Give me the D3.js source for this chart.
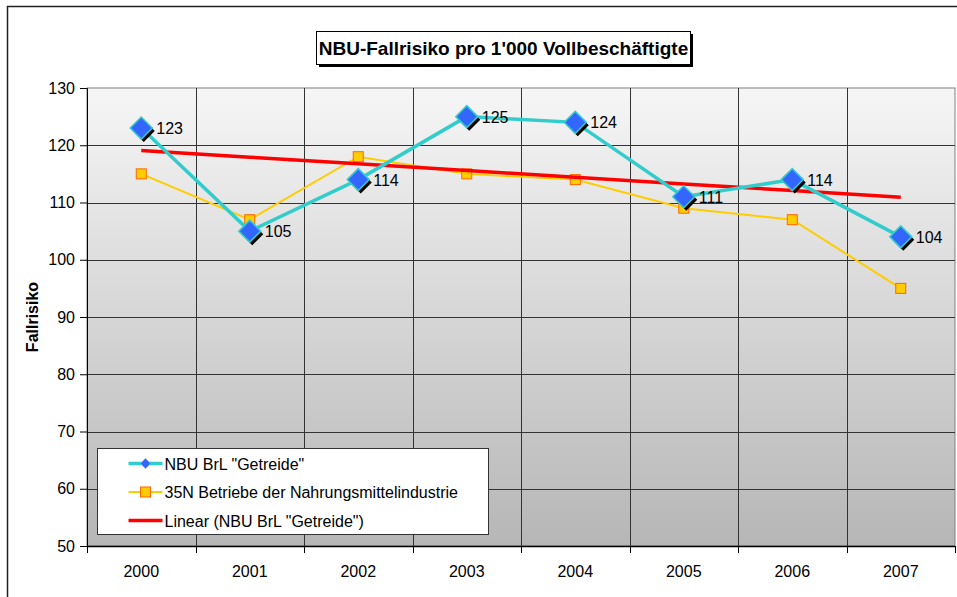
<!DOCTYPE html>
<html>
<head>
<meta charset="utf-8">
<script src="https://cdn.jsdelivr.net/npm/d3@7"></script>
<style>
  body { margin: 0; background: #fff; }
  text { font-family: Arial, "Liberation Sans", sans-serif; }
</style>
</head>
<body>
<div id="chart"></div>
<script>
// data
var years = ["2000", "2001", "2002", "2003", "2004", "2005", "2006", "2007"];
var nbuValues = [123, 105, 114, 125, 124, 111, 114, 104];
var nahrungValues = [115, 107, 118, 115, 114, 109, 107, 95];
var yTicks = [50, 60, 70, 80, 90, 100, 110, 120, 130];
var legendLabels = ['NBU BrL "Getreide"', "35N Betriebe der Nahrungsmittelindustrie", 'Linear (NBU BrL "Getreide")'];

var W = 957, H = 597;
var plot = {left: 87, top: 88, right: 955, bottom: 546};

var svg = d3.select("#chart").append("svg")
    .attr("width", W)
    .attr("height", H);

// outer chart border
svg.append("rect")
    .attr("x", 7.5).attr("y", 6.5)
    .attr("width", W + 10).attr("height", H + 10)
    .attr("fill", "#fff")
    .attr("stroke", "#222")
    .attr("stroke-width", 1.5);

// background gradient of plot area
var grad = svg.append("defs").append("linearGradient")
    .attr("id", "bg").attr("x1", 0).attr("y1", 0).attr("x2", 0).attr("y2", 1);
grad.append("stop").attr("offset", "0%").attr("stop-color", "#f6f6f6");
grad.append("stop").attr("offset", "100%").attr("stop-color", "#b6b6b6");

var x = d3.scaleBand()
    .domain(years)
    .range([plot.left, plot.right]);

var y = d3.scaleLinear()
    .domain([50, 130])
    .range([plot.bottom, plot.top]);

var cx = function (d, i) { return x(years[i]) + x.bandwidth() / 2; };

svg.append("rect")
    .attr("x", plot.left).attr("y", plot.top)
    .attr("width", plot.right - plot.left)
    .attr("height", plot.bottom - plot.top)
    .attr("fill", "url(#bg)")
    .attr("stroke", "#808080");

//horizontal gridlines
svg.selectAll(".hgrid")
    .data(yTicks.slice(1, -1))
    .enter().append("line")
    .attr("x1", plot.left).attr("x2", plot.right)
    .attr("y1", function (d) { return Math.round(y(d)) + 0.5; })
    .attr("y2", function (d) { return Math.round(y(d)) + 0.5; })
    .attr("stroke", "#333").attr("stroke-width", 1);

//vertical gridlines at category boundaries
svg.selectAll(".vgrid")
    .data(years.slice(1))
    .enter().append("line")
    .attr("x1", function (d) { return Math.round(x(d)) + 0.5; })
    .attr("x2", function (d) { return Math.round(x(d)) + 0.5; })
    .attr("y1", plot.top).attr("y2", plot.bottom)
    .attr("stroke", "#333").attr("stroke-width", 1);

// y axis
var yAxis = svg.append("g")
    .attr("transform", "translate(" + plot.left + ",0)")
    .call(d3.axisLeft(y).tickValues(yTicks).tickSize(7).tickPadding(5));
yAxis.select(".domain").attr("stroke", "#000");
yAxis.selectAll("text").attr("font-size", 16).attr("fill", "#000")
    .style("font-family", "Arial, 'Liberation Sans', sans-serif");

// x axis: ticks on category boundaries
var xAxis = svg.append("g")
    .attr("transform", "translate(0," + plot.bottom + ")");
xAxis.append("line")
    .attr("x1", plot.left).attr("x2", plot.right)
    .attr("y1", 0.5).attr("y2", 0.5)
    .attr("stroke", "#000").attr("stroke-width", 1.5);
xAxis.selectAll(".xtick")
    .data(years.concat(["end"]))
    .enter().append("line")
    .attr("x1", function (d, i) { return Math.round(plot.left + i * x.bandwidth()) + 0.5; })
    .attr("x2", function (d, i) { return Math.round(plot.left + i * x.bandwidth()) + 0.5; })
    .attr("y1", 0).attr("y2", 7)
    .attr("stroke", "#000");
xAxis.selectAll(".xlab")
    .data(years)
    .enter().append("text")
    .attr("x", function (d) { return x(d) + x.bandwidth() / 2; })
    .attr("y", 31)
    .attr("text-anchor", "middle")
    .attr("font-size", 16)
    .text(function (d) { return d; });

// y axis title
svg.append("text")
    .attr("transform", "translate(38,317) rotate(-90)")
    .attr("text-anchor", "middle")
    .attr("font-size", 16)
    .attr("font-weight", "bold")
    .text("Fallrisiko");

// series 2: orange squares
var line = d3.line()
    .x(cx)
    .y(function (d) { return y(d); });

svg.append("path")
    .datum(nahrungValues)
    .attr("d", line)
    .attr("fill", "none")
    .attr("stroke", "#ffcc00")
    .attr("stroke-width", 2);

svg.selectAll(".sq")
    .data(nahrungValues)
    .enter().append("rect")
    .attr("x", function (d, i) { return cx(d, i) - 5; })
    .attr("y", function (d) { return y(d) - 5; })
    .attr("width", 10).attr("height", 10)
    .attr("fill", "#ffcc00")
    .attr("stroke", "#ff6600")
    .attr("stroke-width", 1);

// linear trend of NBU (least squares)
var mx = d3.mean(nbuValues, function (d, i) { return i; });
var my = d3.mean(nbuValues);
var sxy = d3.sum(nbuValues, function (d, i) { return (i - mx) * (d - my); });
var sxx = d3.sum(nbuValues, function (d, i) { return (i - mx) * (i - mx); });
var slope = sxy / sxx;
var trend = nbuValues.map(function (d, i) { return my + slope * (i - mx); });

svg.append("path")
    .datum(trend)
    .attr("d", line)
    .attr("fill", "none")
    .attr("stroke", "#ff0000")
    .attr("stroke-width", 3.5);

// series 1: cyan line, blue diamonds
svg.append("path")
    .datum(nbuValues)
    .attr("d", line)
    .attr("fill", "none")
    .attr("stroke", "#33cccc")
    .attr("stroke-width", 3.5);

var diamond = function (r) {
    return "M0," + (-r) + "L" + r + ",0L0," + r + "L" + (-r) + ",0Z";
};

var marks = svg.selectAll(".dia")
    .data(nbuValues)
    .enter().append("g")
    .attr("transform", function (d, i) { return "translate(" + cx(d, i) + "," + y(d) + ")"; });

marks.append("path")
    .attr("d", diamond(11))
    .attr("transform", "translate(2.5,3)")
    .attr("fill", "#000");
marks.append("path")
    .attr("d", diamond(11))
    .attr("fill", "#3366ff")
    .attr("stroke", "#33cccc")
    .attr("stroke-width", 1.5);

marks.append("text")
    .attr("x", 15)
    .attr("y", 6)
    .attr("font-size", 16)
    .text(function (d) { return d; });

// title box with shadow
var tb = {x: 316, y: 31, w: 374, h: 33};
svg.append("rect")
    .attr("x", tb.x + 3).attr("y", tb.y + 3)
    .attr("width", tb.w).attr("height", tb.h)
    .attr("fill", "#000");
svg.append("rect")
    .attr("x", tb.x + 0.5).attr("y", tb.y + 0.5)
    .attr("width", tb.w).attr("height", tb.h)
    .attr("fill", "#fff")
    .attr("stroke", "#000");
svg.append("text")
    .attr("x", tb.x + tb.w / 2 + 0.5)
    .attr("y", tb.y + 24)
    .attr("text-anchor", "middle")
    .attr("font-size", 19)
    .attr("font-weight", "bold")
    .text("NBU-Fallrisiko pro 1'000 Vollbeschäftigte");

// legend
var lg = svg.append("g").attr("transform", "translate(97.5,448.5)");
lg.append("rect")
    .attr("width", 391).attr("height", 86)
    .attr("fill", "#fff")
    .attr("stroke", "#333");

var rows = lg.selectAll(".row")
    .data(legendLabels)
    .enter().append("g")
    .attr("transform", function (d, i) { return "translate(0," + (15 + i * 28.5) + ")"; });

rows.append("line")
    .attr("x1", 31).attr("x2", 65)
    .attr("stroke", function (d, i) { return ["#33cccc", "#ffcc00", "#ff0000"][i]; })
    .attr("stroke-width", function (d, i) { return i === 1 ? 2 : 3.5; });

rows.filter(function (d, i) { return i === 0; }).append("path")
    .attr("d", diamond(5))
    .attr("transform", "translate(48,0)")
    .attr("fill", "#3366ff").attr("stroke", "#33cccc");
rows.filter(function (d, i) { return i === 1; }).append("rect")
    .attr("x", 43).attr("y", -5).attr("width", 10).attr("height", 10)
    .attr("fill", "#ffcc00").attr("stroke", "#ff6600");

rows.append("text")
    .attr("x", 67)
    .attr("y", 6)
    .attr("font-size", 16)
    .text(function (d) { return d; });
</script>
</body>
</html>
